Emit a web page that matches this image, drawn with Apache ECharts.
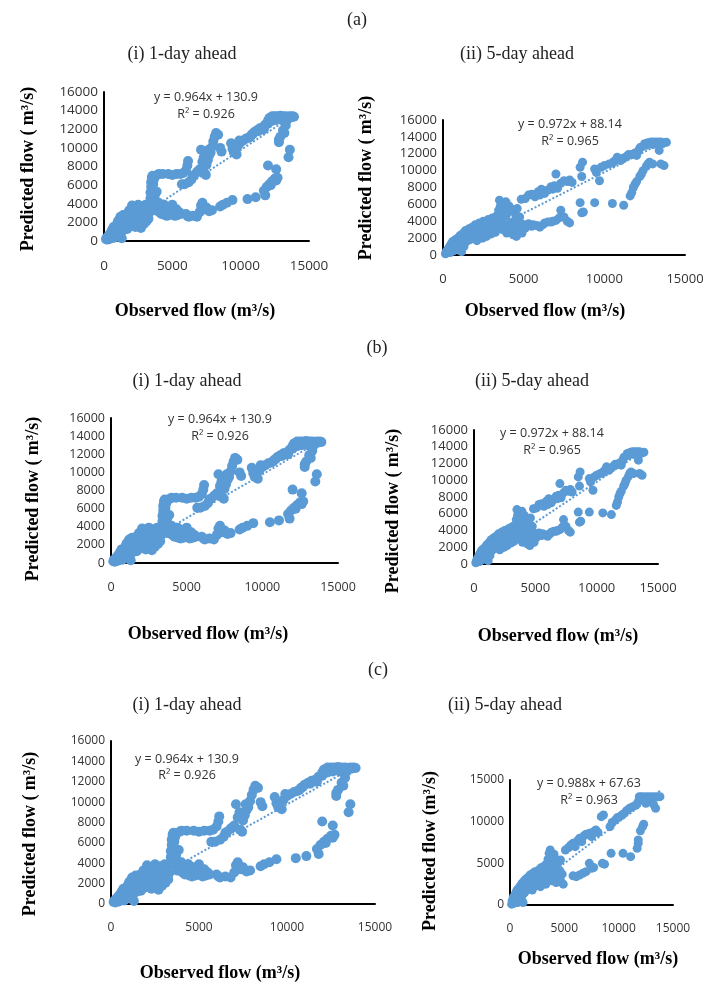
<!DOCTYPE html>
<html><head><meta charset="utf-8">
<script src="https://cdn.jsdelivr.net/npm/echarts@6/dist/echarts.min.js"></script>
<style>html,body{margin:0;padding:0;background:#fff}#c{width:708px;height:984px}</style>
</head><body><div id="c"></div>
<script>
// ---- data ----
const oneDay = [
[150,200],[200,350],[250,150],[300,500],[350,300],[400,700],[450,250],[500,900],[550,450],[600,1200],[650,600],[700,1500],[750,350],[800,900],[850,1300],[900,700],[950,1800],[1000,1100],[1050,2200],[1100,600],[1150,1500],[1200,2600],[1250,900],[1300,300],[1350,1900],[1400,2800],[1450,1200],[1500,2300],
[1600,1700],[1650,2900],[1700,1300],[1800,2100],[1850,3300],[1900,1600],[2000,2500],[2050,3800],[2100,1900],[2200,2800],[2250,3600],[2300,1500],[2400,2300],[2450,3100],[2500,3900],[2550,1900],[2600,2700],[2650,3400],[2700,1400],[2750,2200],[2800,3700],[2850,2900],[2900,1800],[2950,2500],[3000,3300],[3050,3900],[3100,2100],[3150,2800],[3200,3500],[3250,2400],[3300,3000],
[1750,2500],[2150,3300],[2350,2700],[2600,3300],[2900,3100],[3100,3700],[1300,1500],[1000,2000],[800,1500],
[3350,4000],[3400,4600],[3400,5200],[3450,5800],[3450,6300],[3500,6800],[3550,7000],[3500,4300],[3550,5000],[3600,5500],[3600,6100],[3650,6600],[3700,3800],[3700,4800],[3750,3300],[3800,4200],[3850,5300],[3900,7100],[4000,7200],[3900,3600],[4000,4100],[4050,3100],[4100,3700],
[4200,2900],[4300,3400],[4400,3900],[4500,3200],[4600,2700],[4700,3600],[4800,2800],[4900,3300],[5000,3900],[5100,3000],[5200,2700],[5300,3400],[5400,2800],[5500,3100],[5600,2900],
[4250,3600],[4650,3100],[4950,2900],[5250,3100],[4450,2800],
[6000,2900],[6200,2600],[6500,2700],[6800,2600],[7000,3100],[7100,3800],[7200,4100],[7400,3400],[7500,3600],[7700,3200],[7900,3300],[6100,2700],[7300,3700],
[8500,3700],[8700,3900],[9000,4100],[9400,4400],[10500,4500],[11100,4700],[11800,4900],[11700,5400],[11900,5800],[12100,6100],[12300,6400],[12500,6700],[12700,6800],[12000,8100],[12600,7700],[13500,9000],[13600,9800],[12800,10600],[12900,11200],[13100,11900],[13300,12400],[13400,13000],[12800,10900],[13200,11600],[12200,6000],[12600,6500],
[4300,7200],[4700,7200],[5000,7100],[5300,7200],[5600,7200],[5800,7300],[6000,7600],[6100,8100],[6150,8600],[5700,6100],[5900,6100],[6200,6300],[6400,6600],[6600,7100],[6800,7400],[7000,7700],[7100,9800],[7200,8500],[7350,7300],[7450,7100],[7500,8200],[7600,8700],[7700,9200],[7800,9500],[7900,10100],[8000,10700],[8100,11200],[8200,11600],[8350,11400],[8500,10000],[8600,9600],[7300,9000],[7650,9800],[6500,7000],[6900,7500],
[9300,10500],[9400,9900],[9500,9500],[9700,9300],[9800,10200],[10000,10600],[10200,10800],[10400,11000],[10600,11100],[10800,11400],[11000,11700],[11200,11900],[11400,12100],[11600,12200],[11800,12500],[12000,12900],[12100,13200],[12300,13400],[12500,13400],[12700,13400],[12900,13450],[13100,13400],[13300,13400],[13500,13350],[13700,13300],[13900,13350],[12200,13000],[12400,13300],[12600,13300],[12800,13200],[13000,13350],[13200,13300],[13400,13300],[13600,13400],[10900,11500],[11300,11800],[11700,12000],[9600,10000],[9900,10800],
[12300,12900],[12600,13000],[13000,13000],[13400,13100],[13800,13400],[12000,12600],[11500,12000],[10700,11200]
];
const fiveDay = [
[150,150],[200,400],[250,250],[300,700],[350,500],[400,1000],[450,300],[500,1300],[550,800],[600,1600],[650,500],[700,1100],[750,1800],[800,700],[850,1400],[900,2000],[950,900],[1000,1600],[1050,2300],[1100,1200],[1150,400],[1200,1900],[1250,2600],[1300,1000],[1350,2200],[1400,2900],[1450,1600],[1500,2500],
[1600,3100],[1650,1800],[1700,2700],[1800,3300],[1850,2100],[1900,2900],[2000,3600],[2050,2300],[2100,1700],[2200,3000],[2250,3800],[2300,2500],[2400,3300],[2450,2000],[2500,4000],[2600,2800],[2650,3500],[2700,2200],[2800,4200],[2850,3000],[2900,3700],[3000,2500],[3050,4400],[3100,3200],[3200,3900],[3250,2700],[3300,4600],[3400,3400],[3450,5300],[3500,6500],[3550,5800],[3600,4100],[3650,6100],[3700,3000],[3750,4800],[3800,5500],[3850,3600],[3900,6300],[3950,2600],[4000,5000],[4050,3300],[4100,5800],[4150,2900],[4200,3800],[4300,5400],[4350,2400],[4450,3400],[4500,4800],[4550,2200],[4600,5500],[4650,2800],[4700,3900],[4750,4500],[4800,3200],[4900,2600],[5000,3600],
[2700,3900],[3200,4200],[3500,3700],[3900,4600],[4400,4000],[4800,3800],[5100,3200],
[4850,6600],[5100,6700],[5300,7100],[5500,7200],[5700,6900],[5900,7500],[6100,7800],[6300,7300],[6500,7700],[6700,8100],[6900,8200],[7000,9600],[7100,7900],[7300,8500],[7500,8800],[7700,8700],[7850,8900],[8000,8600],[8500,10400],[8650,11000],[8600,9300],[9400,10200],[9500,9800],[9700,8800],[9800,10400],[10000,10600],[10300,10800],[10600,11100],[10800,11600],[11000,11200],[11200,11500],[11400,11700],[11700,11900],[11900,12100],[12100,12300],[12300,12800],[12500,13200],[12700,13300],[12900,13400],[13100,13400],[13300,13400],[13500,13400],[13700,13300],[13850,13350],[13000,13100],[13400,12400],[12000,11800],
[12600,13000],[13200,13200],[13600,13200],[12200,12700],[10500,10900],[11500,11900],[6000,7100],[6800,7800],
[5300,3700],[5500,3400],[5800,3500],[6000,3300],[6200,3600],[6500,3900],[6800,4000],[7000,4100],[7200,4400],[7300,5300],[7500,4500],[7700,4000],[7850,3800],[8500,6200],[8600,5000],[8700,5100],[9400,6200],[10500,6100],[11200,5900],[11600,7000],[11700,7400],[11800,8000],[12000,8700],[12200,9300],[12400,10000],[12600,10500],[12800,11000],[13000,10800],[13500,10800],[13700,10600],[11900,8400],[12300,9600],[12700,10800],
[5600,3600],[6300,3800],[6700,3900]
];
const fiveDayC = [
[150,100],[200,500],[250,300],[300,900],[350,200],[400,600],[450,1200],[500,400],[550,1500],[600,800],[650,1800],[700,300],[750,1100],[800,2000],[850,600],[900,1400],[950,2300],[1000,900],[1050,1700],[1100,2600],[1150,1200],[1200,300],[1250,2000],[1300,2900],[1350,1500],[1400,2300],[1450,3100],[1500,1800],[1600,2600],[1650,3300],[1700,2100],[1800,2900],[1850,3600],[1900,2400],[2000,3200],[2050,1800],[2100,3800],[2200,2700],[2250,3500],[2300,4000],[2400,2300],[2450,3100],[2500,3800],[2600,2600],[2650,4200],[2700,3400],[2800,2200],[2850,3900],[2900,4500],[3000,3000],[3050,4200],[3100,2700],[3200,3600],[3250,4800],[3300,2500],[3400,4100],[3500,5500],[3550,3200],[3600,6200],[3650,4600],[3700,6600],[3750,3800],[3800,5200],[3850,5900],[3900,2900],[4000,4300],[4050,6100],[4100,3500],[4200,5500],[4250,2700],[4300,3900],[4400,5000],[4450,3200],[4600,4100],[4650,5400],[4700,2800],[4800,3700],[4900,2500],
[5100,6600],[5400,6900],[5600,7200],[5800,7400],[6000,7000],[6200,7700],[6400,8000],[6600,7600],[6800,8300],[7000,8500],[7300,8600],[7500,8200],[7700,8800],[7900,9000],[8100,8700],[8400,10600],[8600,10800],[9200,9400],[9400,9900],[9700,10200],[9900,10500],[10200,10700],[10400,10900],[10700,11300],[11000,11600],[11300,11800],[11600,12000],[11900,13000],[12100,13000],[12400,13000],[12700,13000],[13000,13000],[13300,13000],[13600,13000],[13800,13000],[12500,12200],[13400,11600],[13200,12100],[12800,12500],[11800,12400],
[5800,3500],[6100,3400],[6400,3600],[6700,3800],[7000,4000],[7300,5000],[7500,4400],[7700,4500],[8500,5000],[8700,4900],[9300,6200],[10400,6200],[11100,5800],[11700,6800],[11800,7400],[11800,7800],[12000,8900],[12200,9400],[12300,9700]
];
// trendline endpoints
const trendOne = [[150,280],[13900,13530]];
const trendFive = [[150,235],[13900,13600]];
const trendFiveC = [[150,215],[13900,13800]];
const eqOne = ['y = 0.964x + 130.9', 'R² = 0.926'];
const eqFive = ['y = 0.972x + 88.14', 'R² = 0.965'];
const eqFiveC = ['y = 0.988x + 67.63', 'R² = 0.963'];
const xTicks = [0, 5000, 10000, 15000];
const yTicks16 = [0, 2000, 4000, 6000, 8000, 10000, 12000, 14000, 16000];
const yTicks15 = [0, 5000, 10000, 15000];
const sectionLabels = ['(a)', '(b)', '(c)'];
const panelLabels = ['(i) 1-day ahead', '(ii) 5-day ahead'];
const xTitle = 'Observed flow (m³/s)';
const yTitle = 'Predicted flow ( m³/s)';
const yTitleC = 'Predicted flow (m³/s)';

// ---- layout ----
const panels = [
 {g:{left:104,top:92,width:205,height:149}, data:oneDay, trend:trendOne, eq:eqOne, eqPos:[206,97,114], yt:yTicks16, fs:13.5, sym:10, yTitle:yTitle, yPos:[28,169], xPos:[195,311]},
 {g:{left:443,top:120,width:242,height:135}, data:fiveDay, trend:trendFive, eq:eqFive, eqPos:[570,124,141], yt:yTicks16, fs:13, sym:9, yTitle:yTitle, yPos:[366,178], xPos:[545,311]},
 {g:{left:111,top:418,width:227,height:145}, data:oneDay, trend:trendOne, eq:eqOne, eqPos:[220,419,436], yt:yTicks16, fs:12.5, sym:10, yTitle:yTitle, yPos:[33,499], xPos:[208,634]},
 {g:{left:474,top:430,width:184,height:134}, data:fiveDay, trend:trendFive, eq:eqFive, eqPos:[552,433,450], yt:yTicks16, fs:13, sym:9, yTitle:yTitle, yPos:[393,511], xPos:[558,636]},
 {g:{left:111,top:741,width:264,height:163}, data:oneDay, trend:trendOne, eq:eqOne, eqPos:[187,759,775], yt:yTicks16, fs:12, sym:10, yTitle:yTitle, yPos:[30,834], xPos:[220,973]},
 {g:{left:510,top:780,width:163,height:125}, data:fiveDayC, trend:trendFiveC, eq:eqFiveC, eqPos:[589,783,800], yt:yTicks15, fs:12, sym:9, yTitle:yTitleC, yPos:[430,851], xPos:[598,959]}
];
const captionPos = [
 [sectionLabels[0],357,20],[panelLabels[0],182,54],[panelLabels[1],517,54],
 [sectionLabels[1],377,348],[panelLabels[0],187,381],[panelLabels[1],532,381],
 [sectionLabels[2],378,670],[panelLabels[0],187,705],[panelLabels[1],505,705]
];

const BLUE = '#5B9BD5';
const plain = v => String(v);
const grid = [], xAxis = [], yAxis = [], series = [], graphic = [];
panels.forEach((p, i) => {
  grid.push(Object.assign({containLabel:false}, p.g));
  const yt = p.yt;
  xAxis.push({type:'value', gridIndex:i, min:xTicks[0], max:xTicks[xTicks.length-1], interval:xTicks[1]-xTicks[0],
    axisLine:{show:true, onZero:false, lineStyle:{color:'#000', width:2}}, axisTick:{show:false}, splitLine:{show:false},
    axisLabel:{margin:18, fontSize:p.fs, color:'#333', fontFamily:'Open Sans', formatter:plain}});
  yAxis.push({type:'value', gridIndex:i, min:yt[0], max:yt[yt.length-1], interval:yt[1]-yt[0],
    axisLine:{show:true, onZero:false, lineStyle:{color:'#000', width:2}}, axisTick:{show:false}, splitLine:{show:false},
    axisLabel:{margin:6, fontSize:p.fs, color:'#333', fontFamily:'Open Sans', formatter:plain}});
  series.push({type:'scatter', xAxisIndex:i, yAxisIndex:i, data:p.data, symbol:'circle', symbolSize:p.sym,
    itemStyle:{color:BLUE, opacity:1}, z:2, silent:true});
  series.push({type:'line', xAxisIndex:i, yAxisIndex:i, data:p.trend, symbol:'none', z:3, silent:true,
    lineStyle:{color:BLUE, width:2, type:'dotted'}});
  graphic.push({type:'text', x:p.eqPos[0], y:p.eqPos[1], style:{text:p.eq[0], font:'12.5px "Open Sans"', fill:'#333', align:'center', verticalAlign:'middle'}});
  graphic.push({type:'text', x:p.eqPos[0], y:p.eqPos[2], style:{text:p.eq[1], font:'12.5px "Open Sans"', fill:'#333', align:'center', verticalAlign:'middle'}});
  graphic.push({type:'text', x:p.yPos[0], y:p.yPos[1], rotation:Math.PI/2, style:{text:p.yTitle, font:'bold 18px "Liberation Serif"', fill:'#000', align:'center', verticalAlign:'middle'}});
  graphic.push({type:'text', x:p.xPos[0], y:p.xPos[1], style:{text:xTitle, font:'bold 18px "Liberation Serif"', fill:'#000', align:'center', verticalAlign:'middle'}});
});
captionPos.forEach(c => {
  graphic.push({type:'text', x:c[1], y:c[2], style:{text:c[0], font:'18px "Liberation Serif"', fill:'#222', align:'center', verticalAlign:'middle'}});
});

const chart = echarts.init(document.getElementById('c'), null, {renderer:'canvas', width:708, height:984});
chart.setOption({animation:false, backgroundColor:'#fff', grid, xAxis, yAxis, series, graphic});
</script></body></html>
